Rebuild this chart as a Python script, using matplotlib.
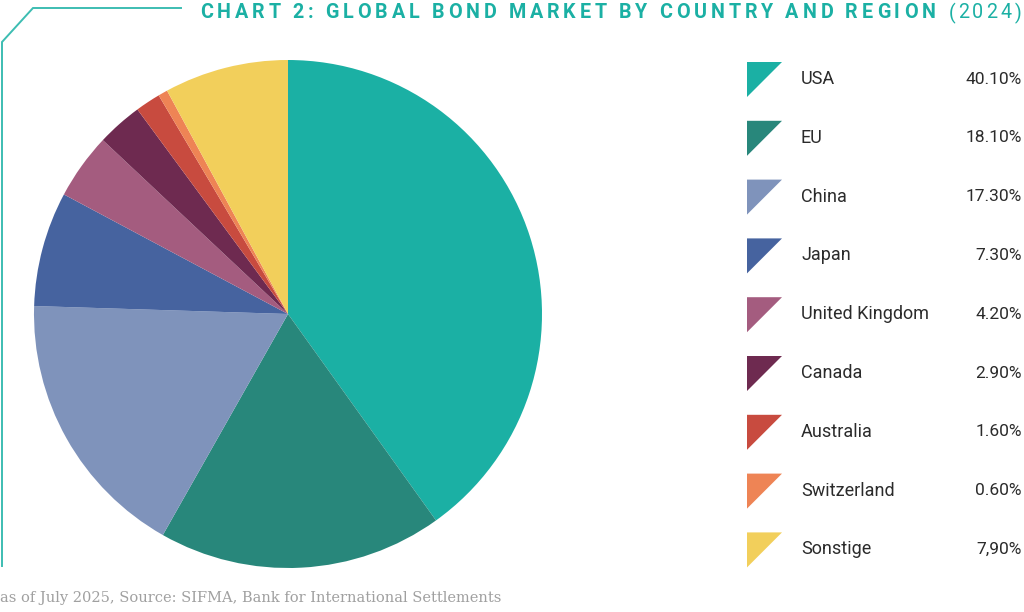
import matplotlib.pyplot as plt
from matplotlib.patches import Polygon
from matplotlib.font_manager import FontProperties

# data
regions = ["USA", "EU", "China", "Japan", "United Kingdom", "Canada",
           "Australia", "Switzerland", "Sonstige"]
shares = [40.1, 18.1, 17.3, 7.3, 4.2, 2.9, 1.6, 0.6, 7.9]
share_labels = ["40.10%", "18.10%", "17.30%", "7.30%", "4.20%", "2.90%",
                "1.60%", "0.60%", "7,90%"]
colors = ["#1BB0A4", "#28877B", "#7F93BB", "#46639F", "#A45C7F",
          "#6E2A50", "#C84B3F", "#EE8455", "#F2CF5B"]

W, H = 1024, 612
fig = plt.figure(figsize=(W / 100, H / 100), dpi=100)
ax = fig.add_axes([0, 0, 1, 1])

def Y(y):
    # reference pixel rows are counted from the top
    return H - y

ax.pie(shares, colors=colors, startangle=90, counterclock=False,
       center=(288, Y(314)), radius=254, frame=True,
       wedgeprops=dict(linewidth=0))
ax.set_xlim(0, W)
ax.set_ylim(0, H)
ax.set_aspect("equal")
ax.axis("off")

# frame line top left
teal = "#3DBDB2"
ax.plot([181, 33, 2, 2], [Y(8), Y(8), Y(42), Y(566)], color=teal, lw=1.4,
        solid_joinstyle="miter")

# title, letter spaced (one text per character)
fig.canvas.draw()
renderer = fig.canvas.get_renderer()

def advance(ch, prop):
    w = lambda s: renderer.get_text_width_height_descent(s, prop, ismath=False)[0]
    return w("H" + ch + "H") - w("HH")

def spaced_text(x, y, s, tracking, weight, size, space=8):
    prop = FontProperties(family="Roboto", weight=weight, size=size)
    for ch in s:
        if ch == " ":
            x += space
            continue
        ax.text(x, y, ch, fontproperties=prop, color="#1BB0A4",
                va="center", ha="left")
        x += advance(ch, prop) + tracking
    return x

x_end = spaced_text(200, Y(13), "CHART 2: GLOBAL BOND MARKET BY COUNTRY AND REGION",
                    3.95, "bold", 14.2, space=8)
spaced_text(x_end + 9, Y(13), "(2024)", 3.0, "normal", 14.2)

# legend
row0, step = 79, 58.8
for i, (name, lab, c) in enumerate(zip(regions, share_labels, colors)):
    yc = row0 + i * step
    tri = Polygon([(747, Y(yc - 17)), (782, Y(yc - 17)), (747, Y(yc + 18))],
                  closed=True, facecolor=c, edgecolor="none")
    ax.add_patch(tri)
    ax.text(801, Y(yc), name, fontsize=13, family="Roboto", color="#2B2B2B",
            va="center", ha="left")
    ax.text(1022, Y(yc), lab, fontsize=12.5, family="Roboto", color="#2B2B2B",
            va="center", ha="right")

# footer
ax.text(0, Y(598), "as of July 2025, Source: SIFMA, Bank for International Settlements",
        fontsize=10.5, family="DejaVu Serif", color="#A0A0A0",
        va="center", ha="left")

fig.savefig("out.png", dpi=100)
